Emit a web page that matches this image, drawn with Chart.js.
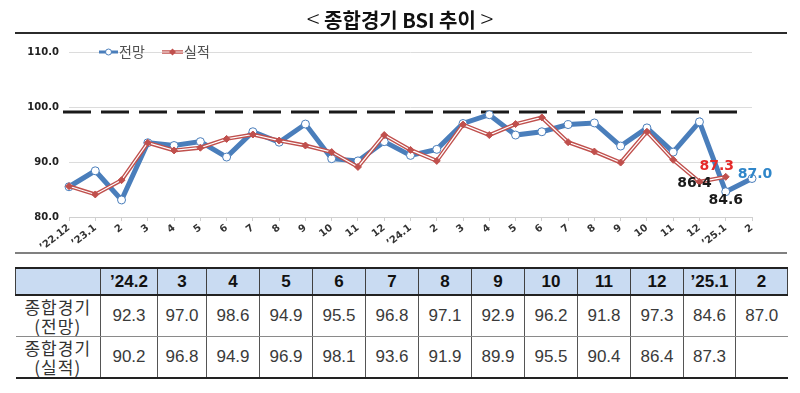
<!DOCTYPE html>
<html>
<head>
<meta charset="utf-8">
<script src="https://cdn.jsdelivr.net/npm/chart.js@4.4.1/dist/chart.umd.min.js"></script>
<style>
  html,body{margin:0;padding:0;background:#fff;}
  body{width:800px;height:393px;position:relative;overflow:hidden;}
  #title{position:absolute;left:0;top:4px;width:800px;text-align:center;font-family:'Noto Sans CJK KR',sans-serif;font-weight:700;font-size:20px;line-height:28px;color:#111;z-index:2;}
  #title .br{font-weight:300;font-size:24px;}
  #rule1{position:absolute;left:15px;top:32px;width:772px;height:2px;background:#2b2b2b;}
  #wrap{position:absolute;left:0;top:0;width:800px;height:250px;}
  #rule2{position:absolute;left:15px;top:252px;width:772px;height:2px;background:#808080;}
  #tbl{position:absolute;left:15px;top:267px;width:772px;border-collapse:collapse;table-layout:fixed;font-family:'Liberation Sans',Arial,sans-serif;}
  #tbl th{height:25px;padding:0;background:#c9dbf2;border:1px solid #404040;border-top:2px solid #222;border-bottom:2px solid #222;font-weight:700;font-size:17px;color:#111;text-align:center;}
  #tbl td{height:40px;padding:0;border-left:1px solid #555;border-right:1px solid #555;border-bottom:1px solid #8a8a8a;font-size:17px;color:#3a3a3a;text-align:center;}
  #tbl tr:last-child td{border-bottom:2px solid #222;}
  #tbl td:first-child{border-left:none;font-family:'Noto Sans CJK KR',sans-serif;font-size:17px;line-height:19px;letter-spacing:1px;color:#333;}
  #tbl td:last-child{border-right:none;}
</style>
</head>
<body>
<div id="title"><span class="br">&lt;</span> 종합경기 BSI 추이 <span class="br">&gt;</span></div>
<div id="rule1"></div>
<div id="wrap"><canvas id="c" width="800" height="250"></canvas></div>
<div id="rule2"></div>
<table id="tbl"></table>
<script>
// ---- data ----
const categories = ["’22.12","’23.1","2","3","4","5","6","7","8","9","10","11","12","’24.1","2","3","4","5","6","7","8","9","10","11","12","’25.1","2"];
const forecast = [85.5, 88.4, 83.1, 93.5, 93.0, 93.7, 90.9, 95.5, 93.6, 96.9, 90.6, 90.2, 93.7, 91.2, 92.3, 97.0, 98.6, 94.9, 95.5, 96.8, 97.1, 92.9, 96.2, 91.8, 97.3, 84.6, 87.0];
const actual   = [85.6, 84.1, 86.7, 93.5, 92.1, 92.6, 94.2, 95.0, 93.9, 93.0, 91.8, 89.1, 94.9, 92.2, 90.2, 96.8, 94.9, 96.9, 98.1, 93.6, 91.9, 89.9, 95.5, 90.4, 86.4, 87.3, null];
const yTicks = [80, 90, 100, 110];
const refValue = 99.1;
const seriesNames = ["전망", "실적"];
const tableCols = ["’24.2","3","4","5","6","7","8","9","10","11","12","’25.1","2"];
const tableStart = 14;
const rowLabels = ["종합경기<br>(전망)", "종합경기<br>(실적)"];

// ---- table ----
(function(){
  const t = document.getElementById('tbl');
  const widths = [85,57,49,53,53,53,53,53,53,53,53,53,52,52];
  let h = '<colgroup>' + widths.map(w=>'<col style="width:'+w+'px">').join('') + '</colgroup>';
  h += '<tr><th></th>' + tableCols.map(c=>'<th>'+c+'</th>').join('') + '</tr>';
  [forecast, actual].forEach((arr, r) => {
    h += '<tr><td>' + rowLabels[r] + '</td>';
    for (let i = 0; i < tableCols.length; i++) {
      const v = arr[tableStart + i];
      h += '<td>' + (v == null ? '' : v.toFixed(1)) + '</td>';
    }
    h += '</tr>';
  });
  t.innerHTML = h;
})();

// ---- chart ----
const BLUE = '#4a7ebb', RED = '#c0504d';

const refLine = {
  id: 'refLine',
  beforeDatasetsDraw(chart){
    const {ctx, chartArea, scales} = chart;
    const y = scales.y.getPixelForValue(refValue);
    ctx.save();
    ctx.strokeStyle = '#1a1a1a';
    ctx.lineWidth = 3;
    ctx.setLineDash([28, 10]);
    ctx.beginPath();
    ctx.moveTo(chartArea.left - 6, y);
    ctx.lineTo(chartArea.right - 11, y);
    ctx.stroke();
    ctx.restore();
  }
};

const legendPlug = {
  id: 'legendPlug',
  afterDraw(chart){
    const {ctx, chartArea} = chart;
    const y = chartArea.top;
    ctx.save();
    ctx.strokeStyle = BLUE; ctx.lineWidth = 3;
    ctx.beginPath(); ctx.moveTo(99, y); ctx.lineTo(118, y); ctx.stroke();
    ctx.fillStyle = '#fff'; ctx.lineWidth = 1;
    ctx.beginPath(); ctx.arc(108.5, y, 3, 0, Math.PI*2); ctx.fill(); ctx.stroke();
    ctx.strokeStyle = RED; ctx.lineWidth = 3.5;
    ctx.beginPath(); ctx.moveTo(162, y); ctx.lineTo(183, y); ctx.stroke();
    ctx.strokeStyle = '#fff'; ctx.lineWidth = 1;
    ctx.beginPath(); ctx.moveTo(162, y); ctx.lineTo(183, y); ctx.stroke();
    ctx.fillStyle = RED;
    ctx.beginPath(); ctx.moveTo(172.5, y-3.5); ctx.lineTo(176, y); ctx.lineTo(172.5, y+3.5); ctx.lineTo(169, y); ctx.closePath(); ctx.fill();
    ctx.font = "14px 'Noto Sans CJK KR'";
    ctx.fillStyle = '#505050';
    ctx.textBaseline = 'middle';
    ctx.fillText(seriesNames[0], 119, y);
    ctx.fillText(seriesNames[1], 184, y);
    ctx.restore();
  }
};

const valueLabels = [
  {ds: 2, idx: 25, dx: -9, dy: -10, color: '#e52b2b'},
  {ds: 2, idx: 24, dx: -5, dy: 2,  color: '#1a1a1a'},
  {ds: 0, idx: 25, dx: 0,  dy: 8.5, color: '#1a1a1a'},
  {ds: 0, idx: 26, dx: 3,  dy: -4.5, color: '#2f86c9'}
];
const labelPlug = {
  id: 'labelPlug',
  afterDatasetsDraw(chart){
    const {ctx} = chart;
    ctx.save();
    ctx.font = "bold 14px 'DejaVu Sans'";
    ctx.textAlign = 'center';
    ctx.textBaseline = 'middle';
    valueLabels.forEach(l => {
      const pt = chart.getDatasetMeta(l.ds).data[l.idx];
      const v = chart.data.datasets[l.ds].data[l.idx];
      ctx.fillStyle = l.color;
      ctx.fillText(v.toFixed(1), pt.x + l.dx, pt.y + l.dy);
    });
    ctx.restore();
  }
};

const tickFont = {family: 'DejaVu Sans', weight: 'bold', size: 10};

new Chart(document.getElementById('c'), {
  type: 'line',
  data: {
    labels: categories,
    datasets: [
      {label: seriesNames[0], data: forecast, borderColor: BLUE, borderWidth: 5, tension: 0,
       pointRadius: 4, pointBackgroundColor: '#fff', pointBorderColor: BLUE, pointBorderWidth: 1, order: 3},
      {label: seriesNames[1], data: actual, borderColor: RED, borderWidth: 4, tension: 0, pointRadius: 0, order: 2},
      {label: seriesNames[1] + ' inner', data: actual, borderColor: '#fff', borderWidth: 1.2, tension: 0,
       pointStyle: 'rectRot', pointRadius: 3.5, pointBackgroundColor: RED, pointBorderColor: RED, pointBorderWidth: 1, order: 1}
    ]
  },
  options: {
    responsive: false,
    animation: false,
    layout: {padding: {top: 52, right: 48, left: 0, bottom: 0}},
    plugins: {legend: {display: false}, tooltip: {enabled: false}},
    scales: {
      x: {
        grid: {drawOnChartArea: false, drawTicks: true, tickLength: 4, color: '#d0d0d0'},
        border: {color: '#d0d0d0'},
        ticks: {autoSkip: false, minRotation: 38, maxRotation: 38, padding: 1, font: tickFont, color: '#333'},
        afterFit(s){ s.height = 33; }
      },
      y: {
        min: 80, max: 110,
        afterBuildTicks(s){ s.ticks = yTicks.map(v => ({value: v})); },
        ticks: {callback: v => Number(v).toFixed(1), padding: 10, font: tickFont, color: '#222'},
        grid: {color: '#dcdcdc', drawTicks: false},
        border: {display: false},
        afterFit(s){ s.width = 69; }
      }
    }
  },
  plugins: [refLine, legendPlug, labelPlug]
});
</script>
</body>
</html>
